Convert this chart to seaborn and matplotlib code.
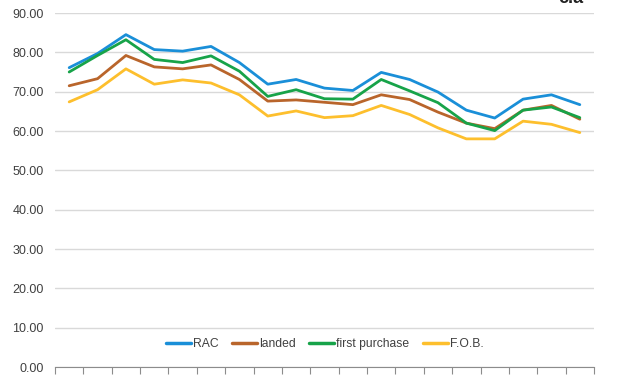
import matplotlib
matplotlib.use("Agg")
import matplotlib.pyplot as plt
import seaborn as sns
import pandas as pd
import numpy as np

periods = list(range(19))
rac = [76.1, 79.7, 84.5, 80.7, 80.3, 81.5, 77.4, 71.9, 73.1, 70.9, 70.3, 74.9, 73.1, 69.9, 65.3, 63.3, 68.1, 69.2, 66.7]
landed = [71.5, 73.3, 79.2, 76.3, 75.8, 76.8, 73.1, 67.6, 67.9, 67.3, 66.7, 69.2, 68.0, 64.8, 62.0, 60.6, 65.3, 66.5, 63.0]
first_purchase = [75.0, 79.2, 83.2, 78.2, 77.4, 79.1, 75.2, 68.8, 70.5, 68.2, 68.1, 73.1, 70.2, 67.2, 62.0, 60.1, 65.3, 66.1, 63.4]
fob = [67.4, 70.5, 75.8, 71.9, 73.0, 72.2, 69.2, 63.8, 65.1, 63.4, 63.9, 66.5, 64.2, 60.8, 58.0, 58.0, 62.5, 61.7, 59.6]
series_names = ["RAC", "landed", "first purchase", "F.O.B."]
y_ticks = [0, 10, 20, 30, 40, 50, 60, 70, 80, 90]

df = pd.concat([
    pd.DataFrame({"period": periods, "value": vals, "series": name})
    for name, vals in zip(series_names, [rac, landed, first_purchase, fob])
])

colors = {"RAC": "#1a8fd8", "landed": "#b9652b", "first purchase": "#17a349", "F.O.B.": "#fdbf2d"}

sns.set_theme(style="white")
plt.rcParams['font.family'] = ['Liberation Sans', 'DejaVu Sans']

fig = plt.figure(figsize=(6.27, 3.76), dpi=100)
ax = fig.add_axes([55/627, 1-367/376, (594-55)/627, (367-13)/376])

sns.lineplot(data=df, x="period", y="value", hue="series", hue_order=series_names,
             palette=colors, linewidth=2.0, ax=ax, legend=True)

ax.set_ylim(0, 90)
ax.set_xlim(-0.5, 18.5)
ax.set_yticks(y_ticks)
ax.set_yticklabels([f"{v:.2f}" for v in y_ticks], fontsize=9, color="#404040")
ax.set_xticks(np.arange(-0.5, 19, 1))
ax.set_xticklabels([])
ax.tick_params(axis="x", direction="out", length=5, width=0.8, color="#8c8c8c", bottom=True)
ax.tick_params(axis="y", length=0, pad=8)
ax.set_xlabel("")
ax.set_ylabel("")
ax.grid(axis="y", color="#d9d9d9", linewidth=1.0)
ax.set_axisbelow(True)
for s in ["top", "right", "left"]:
    ax.spines[s].set_visible(False)
ax.spines["bottom"].set_color("#8c8c8c")
ax.spines["bottom"].set_linewidth(0.8)

leg = ax.legend(loc="center", bbox_to_anchor=(324.5/627*627/539 - 55/539, 1 - (344-13)/354),
                ncol=4, frameon=False, fontsize=8.7, handlelength=2.1, handletextpad=0.15,
                columnspacing=1.1, borderaxespad=0)
for t in leg.get_texts():
    t.set_color("#404040")
for l in leg.get_lines():
    l.set_linewidth(2.5)

fig.text(571/627, 1-7/376, "c.a", fontsize=13, fontweight="bold", ha="center", va="bottom", color="#222222")

fig.savefig("out.png", dpi=100)
